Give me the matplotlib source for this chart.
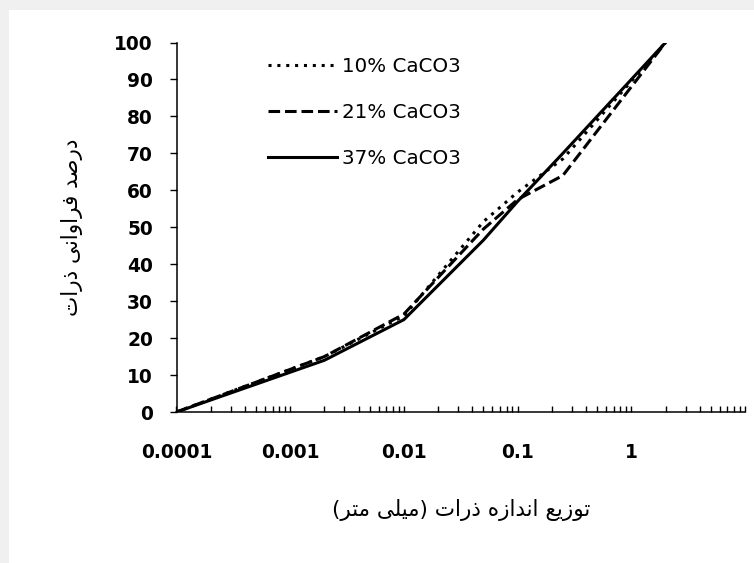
import matplotlib
matplotlib.use("Agg")
import matplotlib.pyplot as plt
from matplotlib.patches import Rectangle
from matplotlib.ticker import FixedLocator, FixedFormatter, LogLocator, NullFormatter

# ---------------- data ----------------
sizes = [0.0001, 0.002, 0.01, 0.05, 0.1, 0.25, 2]
caco3_10 = [0, 15, 26, 51.5, 59.5, 68.5, 100]
caco3_21 = [0, 15, 26.5, 49.5, 57.5, 64, 100]
caco3_37 = [0, 14, 25, 46.5, 57, 70, 100]
series_labels = ["10% CaCO3", "21% CaCO3", "37% CaCO3"]
xtick_values = [0.0001, 0.001, 0.01, 0.1, 1, 10]
xtick_labels = ["0.0001", "0.001", "0.01", "0.1", "1", ""]
ytick_values = list(range(0, 101, 10))
xlabel_text = "توزیع اندازه ذرات (میلی متر)"
ylabel_text = "درصد فراوانی ذرات"

# ------------- minimal Arabic/Persian shaping -------------
FORMS = {
    'ا': ('\uFE8D', '\uFE8E', None, None),
    'ب': ('\uFE8F', '\uFE90', '\uFE91', '\uFE92'),
    'ت': ('\uFE95', '\uFE96', '\uFE97', '\uFE98'),
    'د': ('\uFEA9', '\uFEAA', None, None),
    'ذ': ('\uFEAB', '\uFEAC', None, None),
    'ر': ('\uFEAD', '\uFEAE', None, None),
    'ز': ('\uFEAF', '\uFEB0', None, None),
    'ص': ('\uFEB9', '\uFEBA', '\uFEBB', '\uFEBC'),
    'ع': ('\uFEC9', '\uFECA', '\uFECB', '\uFECC'),
    'ف': ('\uFED1', '\uFED2', '\uFED3', '\uFED4'),
    'ل': ('\uFEDD', '\uFEDE', '\uFEDF', '\uFEE0'),
    'م': ('\uFEE1', '\uFEE2', '\uFEE3', '\uFEE4'),
    'ن': ('\uFEE5', '\uFEE6', '\uFEE7', '\uFEE8'),
    'ه': ('\uFEE9', '\uFEEA', '\uFEEB', '\uFEEC'),
    'و': ('\uFEED', '\uFEEE', None, None),
    'ی': ('\uFBFC', '\uFBFD', '\uFBFE', '\uFBFF'),
}


def shape(text):
    out = []
    n = len(text)
    for i, c in enumerate(text):
        if c not in FORMS:
            out.append(c)
            continue
        prev = text[i - 1] if i > 0 else None
        nxt = text[i + 1] if i + 1 < n else None
        iso, fin, ini, med = FORMS[c]
        jp = prev in FORMS and FORMS[prev][2] is not None
        jn = nxt in FORMS and ini is not None
        if jp and jn:
            g = med
        elif jp:
            g = fin
        elif jn:
            g = ini
        else:
            g = iso
        out.append(g)
    vis = ''.join(reversed(out))
    return vis.translate(str.maketrans('()', ')('))


# ---------------- figure ----------------
W, H = 754, 563
fig = plt.figure(figsize=(W / 100, H / 100), dpi=100)
fig.patch.set_facecolor('#f0f0f0')
fig.patches.append(Rectangle((9 / W, 0), 1, 1 - 10 / H, transform=fig.transFigure,
                             facecolor='white', edgecolor='none', zorder=-10))

ax_l, ax_r, ax_t, ax_b = 176.5, 745, 42.5, 412
ax = fig.add_axes([ax_l / W, 1 - ax_b / H, (ax_r - ax_l) / W, (ax_b - ax_t) / H])
ax.set_facecolor('none')
ax.set_zorder(5)

lw = 2.2
ax.plot(sizes, caco3_10, color='black', lw=lw, linestyle=(0, (1, 1.9)), label=series_labels[0])
ax.plot(sizes, caco3_21, color='black', lw=lw, linestyle=(0, (3.8, 1.6)), label=series_labels[1])
ax.plot(sizes, caco3_37, color='black', lw=lw, linestyle='-', label=series_labels[2])

ax.set_xscale('log')
ax.set_xlim(1e-4, 10)
ax.set_ylim(0, 100)

ax.xaxis.set_major_locator(FixedLocator(xtick_values))
ax.xaxis.set_major_formatter(FixedFormatter(xtick_labels))
ax.xaxis.set_minor_locator(LogLocator(base=10, subs=range(2, 10), numticks=20))
ax.xaxis.set_minor_formatter(NullFormatter())
ax.set_yticks(ytick_values)

for s in ['top', 'right']:
    ax.spines[s].set_visible(False)
for s in ['left', 'bottom']:
    ax.spines[s].set_linewidth(1.1)
    ax.spines[s].set_color('black')

ax.tick_params(axis='x', which='both', direction='in', length=4, width=1, pad=22)
ax.tick_params(axis='y', which='major', direction='out', length=5, width=1, pad=12)
for lab in ax.get_xticklabels() + ax.get_yticklabels():
    lab.set_fontfamily('DejaVu Sans')
    lab.set_fontweight('bold')
    lab.set_fontsize(13.4)

ax.set_xlabel(shape(xlabel_text), fontsize=15.5, fontfamily='DejaVu Sans')
ax.xaxis.set_label_coords(0.5, -0.265)
ax.xaxis.label.set_va('center')
ax.set_ylabel(shape(ylabel_text), fontsize=15.5, fontfamily='DejaVu Sans')
ax.yaxis.set_label_coords(-0.184, 0.5)
ax.yaxis.label.set_va('center')

leg = ax.legend(loc='upper left', bbox_to_anchor=(268 / W, 1 - 57 / H),
                bbox_transform=fig.transFigure, frameon=False,
                prop={'family': 'DejaVu Sans', 'size': 14.3},
                handlelength=3.45, handletextpad=0.3, labelspacing=1.35,
                borderpad=0, borderaxespad=0)

fig.savefig('out.png', dpi=100, facecolor=fig.get_facecolor())
